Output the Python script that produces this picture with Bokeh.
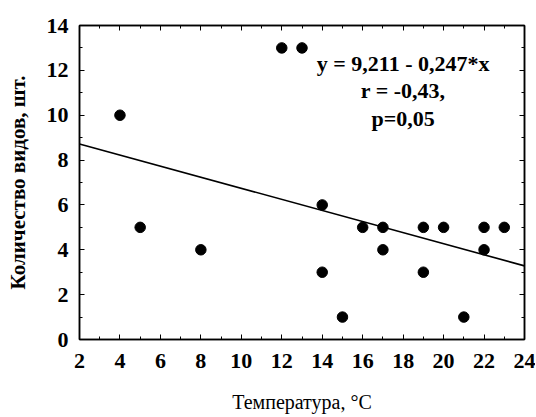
from bokeh.plotting import figure
from bokeh.models import Range1d, LinearAxis, SingleIntervalTicker, Label, ColumnDataSource, CustomJSTickFormatter
from bokeh.embed import file_html
from bokeh.resources import INLINE

# data
temperature = [4, 5, 8, 12, 13, 14, 14, 15, 16, 17, 17, 19, 19, 20, 21, 22, 22, 23]
species = [10, 5, 4, 13, 13, 6, 3, 1, 5, 5, 4, 5, 3, 5, 1, 5, 4, 5]
intercept = 9.211
slope = -0.247
fit_x = [2, 24]
fit_y = [intercept + slope * v for v in fit_x]
eq_lines = ["y = 9,211 - 0,247*x", "r = -0,43,", "p=0,05"]

FONT = "Liberation Serif"

p = figure(frame_width=445, frame_height=314,
           x_range=Range1d(2, 24), y_range=Range1d(0, 14),
           output_backend="svg", toolbar_location=None,
           min_border_left=79, min_border_top=25, min_border_right=11, min_border_bottom=62,
           background_fill_color="white", border_fill_color="white")
p.xgrid.visible = False
p.ygrid.visible = False
p.outline_line_color = "black"
p.outline_line_width = 1.5

def style(ax, labels=True):
    ax.axis_line_color = "black"
    ax.axis_line_width = 1.5
    ax.major_tick_in = 5
    ax.major_tick_out = 0
    ax.minor_tick_in = 3
    ax.minor_tick_out = 0
    ax.major_tick_line_color = "black"
    ax.minor_tick_line_color = "black"
    ax.major_label_text_font = FONT
    ax.major_label_text_font_style = "bold"
    ax.major_label_text_font_size = "22px"
    ax.major_label_text_color = "black"
    ax.axis_label_text_font = FONT
    ax.axis_label_text_color = "black"
    ax.axis_label_text_font_size = "20px"
    if not labels:
        ax.formatter = CustomJSTickFormatter(code="return ''")
        ax.major_label_standoff = 0

p.xaxis.ticker = SingleIntervalTicker(interval=2, num_minor_ticks=2)
p.yaxis.ticker = SingleIntervalTicker(interval=2, num_minor_ticks=2)
style(p.xaxis[0])
style(p.yaxis[0])
p.xaxis.axis_label = "Температура, °C"
p.xaxis.axis_label_text_font_style = "normal"
p.xaxis.major_label_standoff = 14
p.xaxis.axis_label_standoff = 20
p.yaxis.axis_label = "Количество видов, шт."
p.yaxis.axis_label_text_font_style = "bold"
p.yaxis.axis_label_text_font_size = "21px"
p.yaxis.major_label_standoff = 11
p.yaxis.axis_label_standoff = 14

top = LinearAxis(ticker=SingleIntervalTicker(interval=2, num_minor_ticks=2))
right = LinearAxis(ticker=SingleIntervalTicker(interval=2, num_minor_ticks=2))
style(top, labels=False)
style(right, labels=False)
p.add_layout(top, "above")
p.add_layout(right, "right")

src = ColumnDataSource(dict(x=temperature, y=species))
p.line(fit_x, fit_y, line_color="black", line_width=1.6)
p.scatter("x", "y", source=src, size=10.5, marker="circle", fill_color="black", line_color="black")

label_pos = [(18.0, 12.3), (18.0, 11.1), (18.0, 9.85)]
for txt, (lx, ly) in zip(eq_lines, label_pos):
    p.add_layout(Label(x=lx, y=ly, text=txt, text_align="center", text_baseline="middle",
                       text_font=FONT, text_font_style="bold", text_font_size="22px",
                       text_color="black"))

open("out.html", "w").write(file_html(p, INLINE))
